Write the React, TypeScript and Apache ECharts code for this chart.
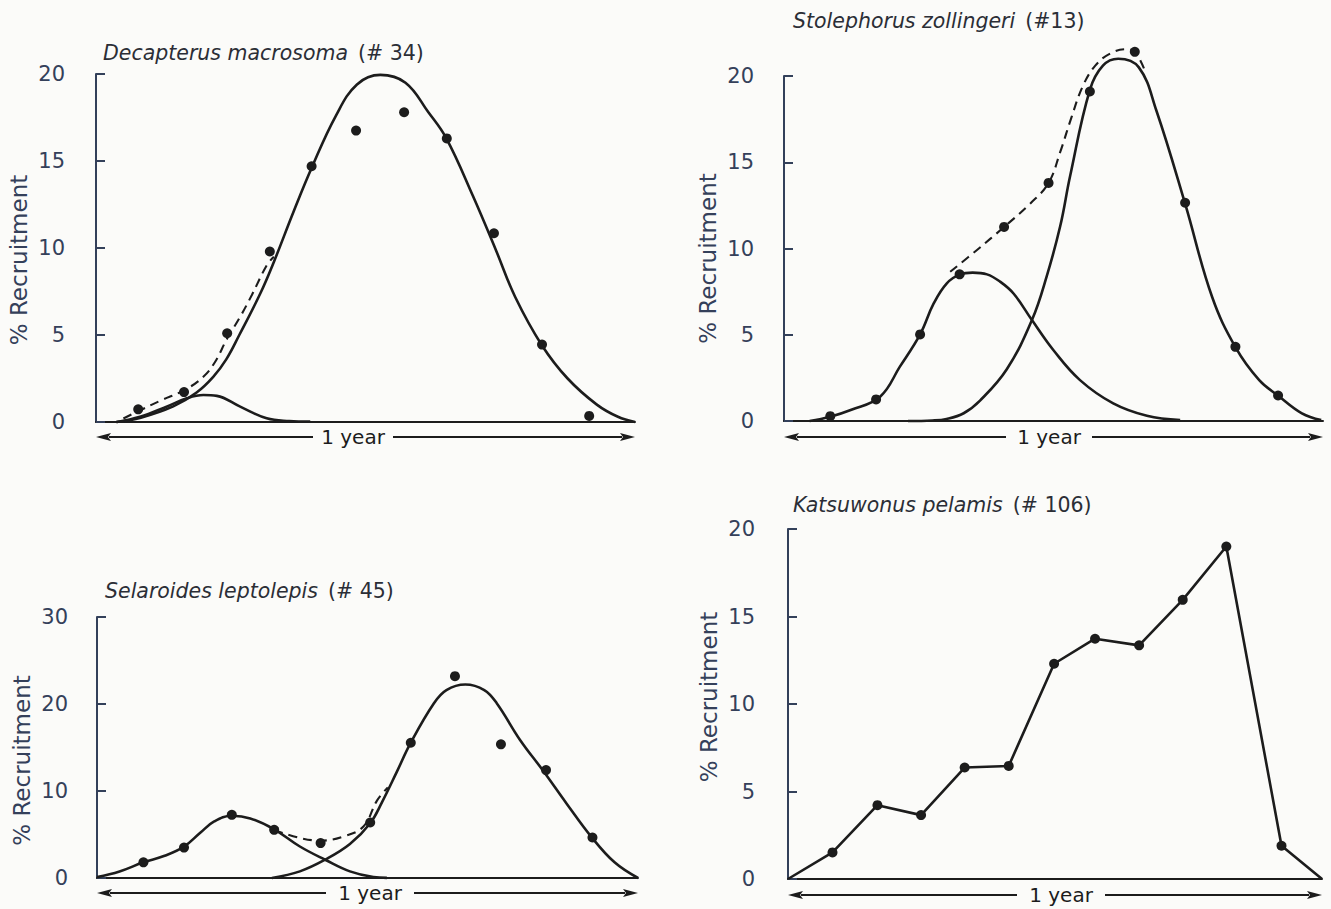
import React, { useEffect, useRef } from "react";
import * as echarts from "echarts";

// ---------- DATA (x = position within the year, months 0..12; y = % recruitment) ----------
// Panel 1: Decapterus macrosoma (# 34)
const p1Name = "Decapterus macrosoma";
const p1Tag = "(# 34)";
const p1Obs = [[0.94, 0.73], [1.96, 1.72], [2.92, 5.1], [3.87, 9.8], [4.8, 14.7], [5.79, 16.75], [6.86, 17.8], [7.81, 16.3], [8.86, 10.85], [9.93, 4.45], [10.98, 0.35]];
const p1Main = [[0.45, 0], [1.0, 0.25], [1.72, 0.9], [2.24, 1.7], [2.61, 2.6], [2.9, 3.6], [3.19, 5.0], [3.66, 7.4], [3.96, 9.2], [4.4, 12.1], [4.8, 14.6], [5.34, 17.6], [5.81, 19.4], [6.33, 19.95], [6.89, 19.5], [7.4, 17.8], [7.8, 16.3], [8.39, 13.0], [8.9, 9.9], [9.33, 7.2], [9.93, 4.4], [10.5, 2.5], [11.15, 1.0], [11.62, 0.3], [12, 0]];
const p1Minor = [[0.46, 0], [0.98, 0.3], [1.57, 0.88], [2.02, 1.36], [2.39, 1.55], [2.69, 1.5], [3.21, 0.88], [3.8, 0.21], [4.3, 0.06], [4.77, 0.03]];
const p1Sum = [[0.61, 0.2], [0.94, 0.62], [1.43, 1.22], [1.98, 1.85], [2.39, 2.6], [2.65, 3.45], [2.92, 4.8], [3.2, 6.0], [3.47, 7.3], [3.8, 9.0], [3.96, 9.5]];

// Panel 2: Stolephorus zollingeri (#13)
const p2Name = "Stolephorus zollingeri";
const p2Tag = "(#13)";
const p2Obs = [[1.03, 0.28], [2.05, 1.25], [3.03, 5.02], [3.91, 8.5], [4.9, 11.25], [5.89, 13.8], [6.81, 19.1], [7.81, 21.4], [8.93, 12.65], [10.05, 4.3], [11.0, 1.48]];
const p2Early = [[0.57, 0], [1.03, 0.25], [1.5, 0.65], [2.14, 1.41], [2.58, 3.15], [3.03, 5.02], [3.33, 6.8], [3.62, 7.97], [3.92, 8.5], [4.2, 8.6], [4.52, 8.5], [4.8, 8.1], [5.11, 7.39], [5.52, 5.85], [6.0, 4.1], [6.59, 2.37], [7.33, 1.02], [8.08, 0.3], [8.82, 0.05]];
const p2Late = [[2.76, 0], [3.3, 0.03], [3.62, 0.12], [4.0, 0.45], [4.37, 1.2], [4.96, 3.0], [5.52, 5.85], [5.85, 8.4], [6.15, 11.3], [6.37, 14.2], [6.81, 19.2], [7.1, 20.6], [7.44, 21.0], [7.9, 20.5], [8.29, 18.0], [8.93, 12.6], [9.53, 7.2], [10.06, 4.24], [10.58, 2.37], [11.01, 1.45], [11.53, 0.44], [11.96, 0.05]];
const p2Sum = [[3.7, 8.65], [4.29, 9.9], [4.9, 11.25], [5.48, 12.6], [5.89, 13.8], [6.15, 15.6], [6.4, 17.6], [6.65, 19.4], [6.93, 20.6], [7.26, 21.3], [7.62, 21.55], [7.81, 21.4], [8.02, 20.4]];

// Panel 3: Selaroides leptolepis (# 45)
const p3Name = "Selaroides leptolepis";
const p3Tag = "(# 45)";
const p3Obs = [[1.03, 1.8], [1.93, 3.5], [2.99, 7.26], [3.93, 5.54], [4.96, 4.01], [6.06, 6.38], [6.96, 15.55], [7.94, 23.2], [8.96, 15.36], [9.96, 12.4], [10.99, 4.66]];
const p3Early = [[0, 0.1], [0.5, 0.75], [1.03, 1.8], [1.5, 2.55], [1.93, 3.6], [2.29, 5.2], [2.6, 6.5], [2.99, 7.15], [3.4, 6.85], [3.93, 5.6], [4.5, 3.62], [5.06, 2.1], [5.61, 0.76], [6.13, 0.11], [6.43, 0.02]];
const p3Late = [[3.88, 0], [4.5, 0.76], [5.06, 2.1], [5.61, 3.9], [6.06, 6.3], [6.32, 8.7], [6.65, 12.2], [6.96, 15.55], [7.47, 20.06], [7.75, 21.6], [8.17, 22.24], [8.59, 21.6], [8.87, 20.06], [9.38, 15.9], [9.9, 12.3], [10.41, 8.6], [10.97, 4.7], [11.48, 1.8], [12, 0]];
const p3Sum = [[3.93, 5.5], [4.5, 4.6], [4.96, 4.3], [5.47, 4.78], [5.91, 5.92], [6.21, 8.9], [6.45, 10.4]];

// Panel 4: Katsuwonus pelamis (# 106)
const p4Name = "Katsuwonus pelamis";
const p4Tag = "(# 106)";
const p4Obs = [[1.0, 1.52], [2.01, 4.22], [2.99, 3.65], [3.97, 6.37], [4.96, 6.46], [5.98, 12.3], [6.9, 13.73], [7.89, 13.35], [8.87, 15.95], [9.85, 19.0], [11.09, 1.9]];
const p4Start = [0, 0];
const p4End = [12, 0];

const yearRange = [0, 12];
const yTicks20 = { max: 20, interval: 5 };
const yTicks30 = { max: 30, interval: 10 };
const yTitle = "% Recruitment";
const spanLabel = "1 year";

// ---------- LAYOUT / STYLE ----------
const W = 1331;
const H = 909;
const FONT = "'DejaVu Sans', Lato, sans-serif";
const INK = "#1c1c1c";
const AXIS_INK = "#33405a";
const LABEL_INK = "#34405a";
const TITLE_INK = "#2b2e36";

const LAYOUT = [
  { left: 96, top: 74, width: 539, height: 348, yOffset: 22, namePad: [0, 24, 0, 0], arrowY: 437, textCx: 353, textHalf: 40, titleLeft: 103, titleTop: 42 },
  { left: 784, top: 76, width: 539, height: 345, yOffset: 21, namePad: [0, 20, 0, 0], arrowY: 437, textCx: 1049, textHalf: 43, titleLeft: 793, titleTop: 10 },
  { left: 97, top: 617, width: 541, height: 261, yOffset: 20, namePad: [0, 26, 0, 0], arrowY: 893, textCx: 370, textHalf: 44, titleLeft: 105, titleTop: 580 },
  { left: 788, top: 529, width: 534, height: 350, yOffset: 24, namePad: [0, 0, 0, 14], arrowY: 895, textCx: 1061, textHalf: 44, titleLeft: 793, titleTop: 494 },
];

function arrowGraphics(L: any) {
  const x0 = L.left;
  const x1 = L.left + L.width;
  const y = L.arrowY;
  const head = 15;
  const hw = 4;
  const lineStyle = { stroke: INK, lineWidth: 1.8 };
  return [
    { type: "line", shape: { x1: x0 + head - 2, y1: y, x2: L.textCx - L.textHalf, y2: y }, style: lineStyle, silent: true },
    { type: "line", shape: { x1: L.textCx + L.textHalf, y1: y, x2: x1 - head + 2, y2: y }, style: lineStyle, silent: true },
    { type: "polygon", shape: { points: [[x0, y], [x0 + head, y - hw], [x0 + head - 3, y], [x0 + head, y + hw]] }, style: { fill: INK }, silent: true },
    { type: "polygon", shape: { points: [[x1, y], [x1 - head, y - hw], [x1 - head + 3, y], [x1 - head, y + hw]] }, style: { fill: INK }, silent: true },
    {
      type: "text",
      x: L.textCx,
      y: y,
      style: { text: spanLabel, fill: INK, font: `20px ${FONT}`, textAlign: "center", textVerticalAlign: "middle" },
      silent: true,
    },
  ];
}

function fitLine(idx: number, data: number[][], dashed = false) {
  return {
    type: "line",
    xAxisIndex: idx,
    yAxisIndex: idx,
    data,
    smooth: 0.4,
    showSymbol: false,
    clip: false,
    silent: true,
    z: dashed ? 3 : 2,
    lineStyle: dashed
      ? { color: INK, width: 2.1, type: [9, 6] }
      : { color: INK, width: 2.6 },
  };
}

function obsScatter(idx: number, data: number[][]) {
  return {
    type: "scatter",
    xAxisIndex: idx,
    yAxisIndex: idx,
    data,
    symbol: "circle",
    symbolSize: 10,
    clip: false,
    silent: true,
    z: 5,
    itemStyle: { color: INK, opacity: 1 },
  };
}

export default function App() {
  const ref = useRef<HTMLDivElement>(null);

  useEffect(() => {
    if (!ref.current) return;
    const chart = echarts.init(ref.current, undefined, { renderer: "svg", width: W, height: H });

    const scales = [yTicks20, yTicks20, yTicks30, yTicks20];
    const titles = [
      [p1Name, p1Tag],
      [p2Name, p2Tag],
      [p3Name, p3Tag],
      [p4Name, p4Tag],
    ];

    const option: any = {
      animation: false,
      backgroundColor: "#fbfbf9",
      title: titles.map((t, i) => ({
        text: `{i|${t[0]}}  {n|${t[1]}}`,
        left: LAYOUT[i].titleLeft,
        top: LAYOUT[i].titleTop,
        padding: 0,
        textStyle: {
          fontWeight: "normal",
          rich: {
            i: { fontStyle: "italic", fontWeight: "normal", fontSize: 20.5, fontFamily: FONT, color: TITLE_INK },
            n: { fontWeight: "normal", fontSize: 20.5, fontFamily: FONT, color: TITLE_INK },
          },
        },
      })),
      grid: LAYOUT.map((L) => ({ left: L.left, top: L.top, width: L.width, height: L.height, containLabel: false })),
      xAxis: LAYOUT.map((_, i) => ({
        gridIndex: i,
        type: "value",
        min: yearRange[0],
        max: yearRange[1],
        axisLine: { show: true, onZero: false, lineStyle: { color: INK, width: 2 } },
        axisTick: { show: false },
        axisLabel: { show: false },
        splitLine: { show: false },
      })),
      yAxis: LAYOUT.map((L, i) => ({
        gridIndex: i,
        type: "value",
        min: 0,
        max: scales[i].max,
        interval: scales[i].interval,
        offset: L.yOffset,
        axisLine: { show: true, lineStyle: { color: AXIS_INK, width: 2 } },
        axisTick: { show: true, inside: true, length: 9, lineStyle: { color: AXIS_INK, width: 2 } },
        axisLabel: { margin: 9, fontSize: 21, fontFamily: FONT, color: LABEL_INK },
        splitLine: { show: false },
        name: yTitle,
        nameLocation: "middle",
        nameRotate: 90,
        nameGap: 44,
        nameTextStyle: { fontSize: 23, fontFamily: FONT, color: LABEL_INK, padding: L.namePad },
      })),
      graphic: LAYOUT.flatMap((L) => arrowGraphics(L)),
      series: [
        fitLine(0, p1Main),
        fitLine(0, p1Minor),
        fitLine(0, p1Sum, true),
        obsScatter(0, p1Obs),

        fitLine(1, p2Early),
        fitLine(1, p2Late),
        fitLine(1, p2Sum, true),
        obsScatter(1, p2Obs),

        fitLine(2, p3Early),
        fitLine(2, p3Late),
        fitLine(2, p3Sum, true),
        obsScatter(2, p3Obs),

        {
          type: "line",
          xAxisIndex: 3,
          yAxisIndex: 3,
          data: [p4Start, ...p4Obs, p4End],
          showSymbol: false,
          clip: false,
          silent: true,
          z: 2,
          lineStyle: { color: INK, width: 2.6 },
        },
        obsScatter(3, p4Obs),
      ],
    };

    chart.setOption(option);
    return () => chart.dispose();
  }, []);

  return (
    <div
      ref={ref}
      style={{ position: "absolute", left: 0, top: 0, width: W, height: H, background: "#fbfbf9" }}
    />
  );
}
